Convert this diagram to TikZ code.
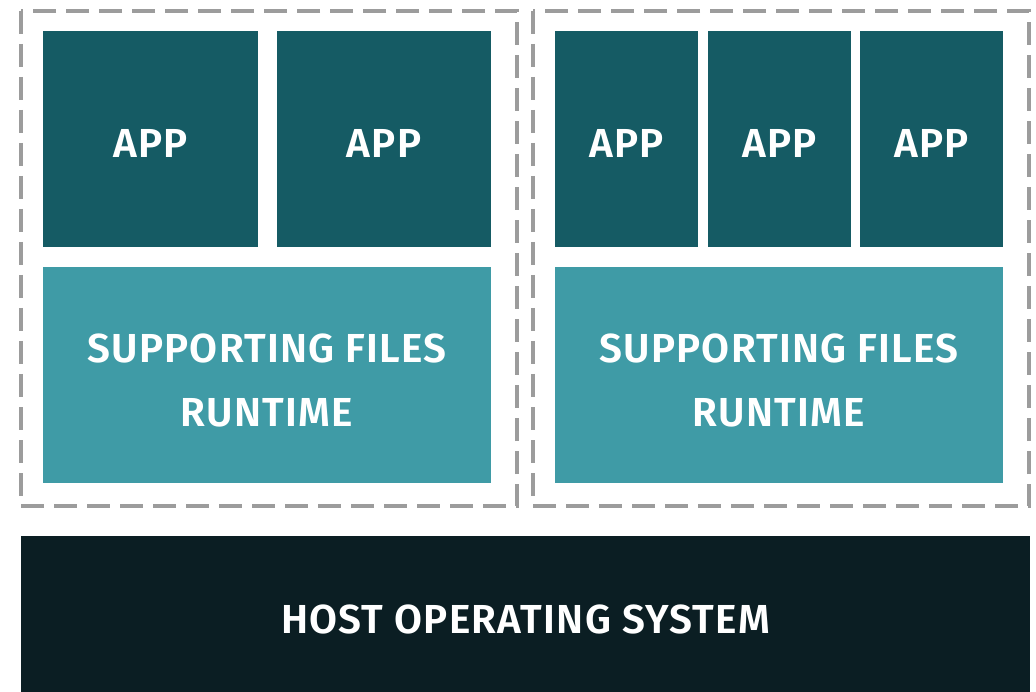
\documentclass[tikz,border=0pt]{standalone}
\usepackage{fontspec}
\setmainfont{Fira Sans}[LetterSpace=3, BoldFont={Fira Sans SemiBold}]
\definecolor{appc}{HTML}{155B64}
\definecolor{supc}{HTML}{3F9BA6}
\definecolor{hostc}{HTML}{0B1E23}
\definecolor{dashc}{HTML}{9C9C9C}
\tikzset{
  blk/.style={inner sep=0pt, outer sep=0pt, text=white, font=\fontsize{40.5}{64}\selectfont\bfseries, align=center},
  appbox/.style={blk, fill=appc, text height=37pt, text depth=0pt},
  supbox/.style={blk, fill=supc},
  suplbl/.style={blk, yshift=-5pt},
  hostbox/.style={blk, fill=hostc, text height=34pt, text depth=0pt},
  cbox/.style={draw=dashc, line width=3.5pt, dash pattern=on 23pt off 10pt},
}
\begin{document}
\begin{tikzpicture}[x=1pt,y=-1pt]
\useasboundingbox[fill=white] (0,0) rectangle (1036,692);
% containers
\draw[cbox] (21,11) rectangle (517,506) coordinate (c1);
\draw[cbox] (533,11) rectangle (1029,506) coordinate (c2);
% apps left
\node[appbox, minimum width=215pt, minimum height=216pt] (a1) at (150.5,139) {APP};
\node[appbox, minimum width=214pt, minimum height=216pt] (a2) at (384,139) {APP};
\node[supbox, minimum width=448pt, minimum height=216pt] (s1) at (267,375) {};
\node[suplbl] (t1) at (s1.center) {SUPPORTING FILES\\RUNTIME};
% apps right
\node[appbox, minimum width=143pt, minimum height=216pt] (a3) at (626.5,139) {APP};
\node[appbox, minimum width=143pt, minimum height=216pt] (a4) at (779.5,139) {APP};
\node[appbox, minimum width=143pt, minimum height=216pt] (a5) at (931.5,139) {APP};
\node[supbox, minimum width=448pt, minimum height=216pt] (s2) at (779,375) {};
\node[suplbl] (t2) at (s2.center) {SUPPORTING FILES\\RUNTIME};
% host
\node[hostbox, minimum width=1009pt, minimum height=160pt] (h) at (525.5,616) {HOST OPERATING SYSTEM};
\end{tikzpicture}
\end{document}
